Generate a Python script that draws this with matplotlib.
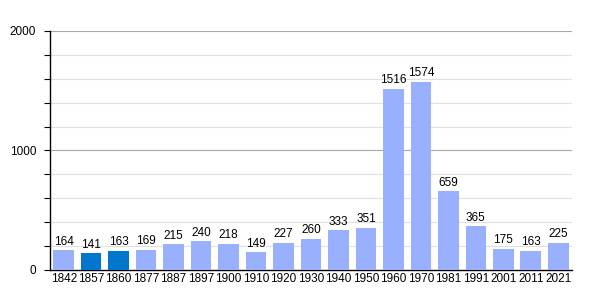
import matplotlib.pyplot as plt
import numpy as np

years = ["1842", "1857", "1860", "1877", "1887", "1897", "1900", "1910", "1920",
         "1930", "1940", "1950", "1960", "1970", "1981", "1991", "2001", "2011", "2021"]
population = [164, 141, 163, 169, 215, 240, 218, 149, 227, 260, 333, 351,
              1516, 1574, 659, 365, 175, 163, 225]
highlighted = ["1857", "1860"]

light = "#99b0ff"
dark = "#0077cc"

fig = plt.figure(figsize=(6, 3), dpi=100)
ax = fig.add_axes([0.0833, 0.1, 0.87, 0.797])

x = np.arange(len(years))
colors = [dark if y in highlighted else light for y in years]
ax.bar(x, population, width=0.75, color=colors, zorder=3)

for xi, v in zip(x, population):
    ax.text(xi, v + 22, str(v), ha="center", va="bottom", fontsize=8.5,
            family="Liberation Sans", color="black", zorder=4)

ax.set_xlim(-0.5, len(years) - 0.5)
ax.set_ylim(0, 2000)
ax.set_xticks(x)
ax.set_xticklabels(years, family="Liberation Sans", fontsize=8.5)
ax.tick_params(axis="x", length=0, pad=2)
ax.set_yticks([0, 1000, 2000])
ax.set_yticklabels(["0", "1000", "2000"], family="Liberation Sans", fontsize=8.5)
ax.set_yticks(np.arange(0, 2001, 200), minor=True)
ax.tick_params(axis="y", which="both", length=4, width=0.8, color="black", pad=6)

for yv in np.arange(200, 2001, 200):
    col = "#aaaaaa" if yv % 1000 == 0 else "#e0e0e0"
    ax.axhline(yv, color=col, linewidth=0.8, zorder=1)

for s in ["top", "right"]:
    ax.spines[s].set_visible(False)
ax.spines["left"].set_linewidth(1.0)
ax.spines["bottom"].set_linewidth(1.0)

fig.savefig("out.png", dpi=100)
